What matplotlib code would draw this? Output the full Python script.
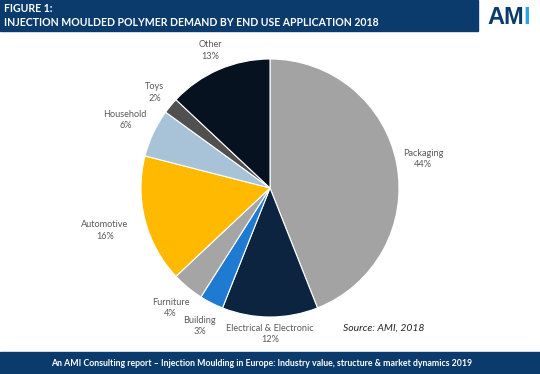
import matplotlib
matplotlib.use("Agg")
import matplotlib.pyplot as plt
import numpy as np

categories = ["Packaging", "Electrical & Electronic", "Building", "Furniture",
              "Automotive", "Household", "Toys", "Other"]
values = [44, 12, 3, 4, 16, 6, 2, 13]
colors = ["#A3A3A3", "#0C2440", "#1F7AD2", "#A5A5A5", "#FFBA00", "#A8C3D8", "#505050", "#06121F"]
label_dist = [1.21, 1.13, 1.20, 1.21, 1.32, 1.24, 1.16, 1.16]

title_lines = ["FIGURE 1:", "INJECTION MOULDED POLYMER DEMAND BY END USE APPLICATION 2018"]
footer = "An AMI Consulting report \u2013 Injection Moulding in Europe: Industry value, structure & market dynamics 2019"
source = "Source: AMI, 2018"

W, H = 540, 374
fig = plt.figure(figsize=(W / 100, H / 100), dpi=100)
navy = "#0B3A6C"

def fx(px):
    return px / W

def fy(py):
    return 1 - py / H

# header band
fig.patches.append(plt.Rectangle((0, fy(31)), fx(478), 31 / H, transform=fig.transFigure,
                                 color=navy, zorder=0))
fig.text(fx(4), fy(8), title_lines[0], color="white", fontsize=7.6, fontweight="bold",
         family="Lato", va="center", ha="left")
fig.text(fx(4), fy(22), title_lines[1], color="white", fontsize=7.6, fontweight="bold",
         family="Lato", va="center", ha="left")
# logo
fig.text(fx(487), fy(17), "AM", color=navy, fontsize=17, fontweight="bold",
         family="Liberation Sans", va="center", ha="left")
fig.text(fx(523), fy(17), "I", color="#27A6DF", fontsize=17, fontweight="bold",
         family="Liberation Sans", va="center", ha="left")

# footer band
fig.patches.append(plt.Rectangle((0, 0), 1, 22 / H, transform=fig.transFigure,
                                 color=navy, zorder=0))
fig.text(fx(262), fy(363), footer, color="white", fontsize=6.35, fontweight="bold",
         family="Lato", va="center", ha="center")

# pie
cx, cy, R = 270, 188, 129
ax = fig.add_axes([fx(70), fy(338), 400 / W, 300 / H])
ax.axis("off")
wedges, _ = ax.pie(values, colors=colors, startangle=90, counterclock=False,
                   wedgeprops=dict(edgecolor="white", linewidth=0.8))
ax.set_xlim(-200 / R, 200 / R)
ax.set_ylim(-150 / R, 150 / R)
ax.set_aspect("auto")

for w, cat, v, d in zip(wedges, categories, values, label_dist):
    ang = np.deg2rad((w.theta1 + w.theta2) / 2)
    x, y = d * np.cos(ang), d * np.sin(ang)
    ax.text(x, y, f"{cat}\n{v}%", ha="center", va="center", fontsize=6.6,
            color="#595959", family="Lato", linespacing=1.35)

fig.text(fx(343), fy(328), source, color="#262626", fontsize=7.5, style="italic",
         family="Lato", va="center", ha="left")

fig.savefig("out.png", dpi=100)
